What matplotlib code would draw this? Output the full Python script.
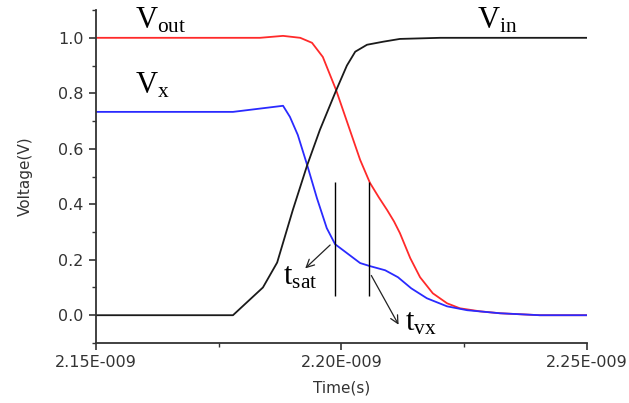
import matplotlib
matplotlib.use("Agg")
import matplotlib.pyplot as plt
from matplotlib.ticker import MultipleLocator
import numpy as np

plt.rcParams['mathtext.fontset'] = 'custom'
plt.rcParams['mathtext.rm'] = 'Liberation Serif'
plt.rcParams['mathtext.it'] = 'Liberation Serif:italic'

# time in ns, voltage in V
t_in = [2.15, 2.1779, 2.1840, 2.1869, 2.1901, 2.1930, 2.1956, 2.1989, 2.2011,
        2.2028, 2.2052, 2.2085, 2.2119, 2.2201, 2.25]
v_in = [0.0, 0.0, 0.10, 0.19, 0.38, 0.54, 0.668, 0.81, 0.90,
        0.95, 0.975, 0.986, 0.996, 1.0, 1.0]

t_out = [2.15, 2.1834, 2.1881, 2.1916, 2.1940, 2.1962, 2.1989, 2.2017, 2.2038,
         2.2058, 2.2076, 2.2093, 2.2107, 2.2119, 2.2140, 2.2160, 2.2186, 2.2215,
         2.2241, 2.2282, 2.2323, 2.2404, 2.25]
v_out = [1.0, 1.0, 1.007, 1.0, 0.982, 0.931, 0.812, 0.668, 0.560,
         0.477, 0.425, 0.379, 0.338, 0.296, 0.206, 0.137, 0.079, 0.043,
         0.025, 0.014, 0.007, 0.0, 0.0]

t_x = [2.15, 2.1779, 2.1881, 2.1895, 2.1911, 2.1930, 2.1950, 2.1970, 2.1987,
       2.2011, 2.2038, 2.2058, 2.2089, 2.2115, 2.2142, 2.2174, 2.2215, 2.2256,
       2.2323, 2.2404, 2.25]
v_x = [0.733, 0.733, 0.755, 0.715, 0.650, 0.542, 0.422, 0.314, 0.256,
       0.224, 0.188, 0.177, 0.162, 0.137, 0.097, 0.061, 0.032, 0.018,
       0.007, 0.0, 0.0]

t_sat = 2.1987
t_vx = 2.2056
xtick_labels = ["2.15E-009", "2.20E-009", "2.25E-009"]

ns = 1e-9
fig = plt.figure(figsize=(6.29, 4.03), dpi=100)
ax = fig.add_axes([0.1526, 0.149, 0.7806, 0.826])

ax.plot(np.array(t_out) * ns, v_out, color='#ff2a2a', lw=1.3)
ax.plot(np.array(t_x) * ns, v_x, color='#2a2aff', lw=1.3)
ax.plot(np.array(t_in) * ns, v_in, color='#1a1a1a', lw=1.3)

ax.vlines([t_sat * ns, t_vx * ns], 0.07, 0.48, color='black', lw=1.0)

arrow = dict(arrowstyle='->', color='#222222', lw=0.9, mutation_scale=14)
ax.annotate('', xy=(2.1922 * ns, 0.162), xytext=(2.1981 * ns, 0.26), arrowprops=arrow)
ax.annotate('', xy=(2.2119 * ns, -0.043), xytext=(2.2058 * ns, 0.152), arrowprops=arrow)

lab = dict(fontsize=22, color='black', va='center', ha='left')
ax.text(2.1579 * ns, 1.065, r'$\mathrm{V}_{\mathrm{out}}$', **lab)
ax.text(2.1579 * ns, 0.83, r'$\mathrm{V}_{\mathrm{x}}$', **lab)
ax.text(2.2276 * ns, 1.065, r'$\mathrm{V}_{\mathrm{in}}$', **lab)
ax.text(2.1881 * ns, 0.14, r'$\mathrm{t}_{\mathrm{sat}}$', **lab)
ax.text(2.2129 * ns, -0.025, r'$\mathrm{t}_{\mathrm{vx}}$', **lab)

ax.set_xlim(2.15 * ns, 2.25 * ns)
ax.set_ylim(-0.1, 1.1)
ax.set_xticks([2.15 * ns, 2.20 * ns, 2.25 * ns])
ax.set_xticklabels(xtick_labels)
ax.xaxis.set_minor_locator(MultipleLocator(0.025 * ns))
ax.set_yticks([0.0, 0.2, 0.4, 0.6, 0.8, 1.0])
ax.set_yticklabels(['0.0', '0.2', '0.4', '0.6', '0.8', '1.0'])
ax.yaxis.set_minor_locator(MultipleLocator(0.1))

for s in ['top', 'right']:
    ax.spines[s].set_visible(False)
for s in ['left', 'bottom']:
    ax.spines[s].set_color('#333333')
    ax.spines[s].set_linewidth(1.3)
ax.tick_params(which='major', direction='out', length=5, width=1.2, color='#333333',
               labelsize=11.5, labelcolor='#333333', pad=4)
ax.tick_params(which='minor', direction='out', length=3, width=1.0, color='#333333')

ax.set_xlabel('Time(s)', fontsize=11, color='#333333', labelpad=7)
ax.set_ylabel('Voltage(V)', fontsize=11, color='#333333', labelpad=18)

fig.savefig('out.png', dpi=100)
